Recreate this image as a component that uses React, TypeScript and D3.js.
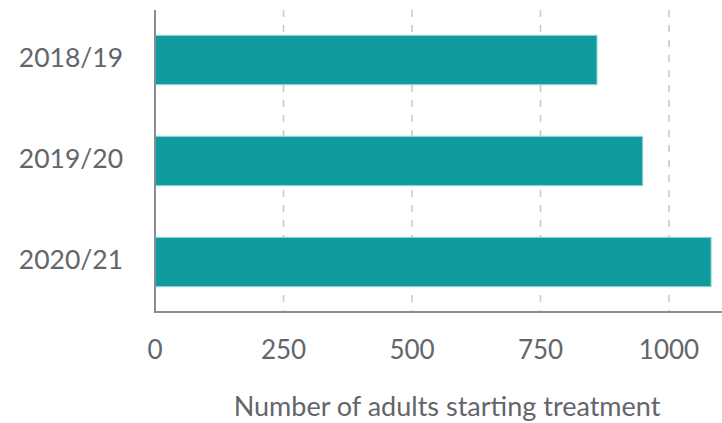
import { useEffect, useRef } from "react"
import * as d3 from "d3"

const years = ["2018/19", "2019/20", "2020/21"]
const adults = [860, 949, 1082]
const ticks = [0, 250, 500, 750, 1000]

export default function App() {
  const svgRef = useRef<SVGSVGElement>(null)

  useEffect(() => {
    if (!svgRef.current) return
    const svg = d3.select(svgRef.current)
    svg.selectAll("*").remove()

    const left = 155
    const top = 10
    const bottom = 312

    const x = d3.scaleLinear().domain([0, 1100]).range([left, left + 0.514 * 1100])
    const y = d3
      .scaleBand<string>()
      .domain(years)
      .range([top, bottom])
      .paddingInner(0.51)
      .paddingOuter(0.25)

    const font = "Lato, 'Open Sans', sans-serif"
    const textColor = "#62666b"

    // dashed gridlines
    svg
      .append("g")
      .selectAll("line")
      .data(ticks.filter((t) => t > 0))
      .enter()
      .append("line")
      .attr("x1", (d) => x(d))
      .attr("x2", (d) => x(d))
      .attr("y1", top)
      .attr("y2", bottom)
      .attr("stroke", "#c8c8c8")
      .attr("stroke-width", 1.5)
      .attr("stroke-dasharray", "7,8")

    // bars
    svg
      .append("g")
      .selectAll("rect")
      .data(adults)
      .enter()
      .append("rect")
      .attr("x", x(0))
      .attr("y", (_, i) => y(years[i])!)
      .attr("width", (d) => x(d) - x(0))
      .attr("height", y.bandwidth())
      .attr("fill", "#109c9e")
      .attr("stroke", "#a8dada")
      .attr("stroke-width", 1)

    // axis lines
    svg
      .append("path")
      .attr("d", `M${left},${top}V${bottom}H722`)
      .attr("fill", "none")
      .attr("stroke", "#8a8d91")
      .attr("stroke-width", 2)

    // x tick labels
    svg
      .append("g")
      .selectAll("text")
      .data(ticks)
      .enter()
      .append("text")
      .attr("x", (d) => x(d))
      .attr("y", 352)
      .attr("text-anchor", "middle")
      .attr("dominant-baseline", "middle")
      .attr("font-family", font)
      .attr("font-size", "26px")
      .attr("fill", textColor)
      .text((d) => d)

    // y category labels
    svg
      .append("g")
      .selectAll("text")
      .data(years)
      .enter()
      .append("text")
      .attr("x", 123)
      .attr("y", (d) => y(d)! + y.bandwidth() / 2)
      .attr("text-anchor", "end")
      .attr("dominant-baseline", "middle")
      .attr("font-family", font)
      .attr("font-size", "26.5px")
      .attr("fill", textColor)
      .text((d) => d)

    // axis title
    svg
      .append("text")
      .attr("x", 447)
      .attr("y", 409)
      .attr("text-anchor", "middle")
      .attr("dominant-baseline", "middle")
      .attr("font-family", font)
      .attr("font-size", "27px")
      .attr("fill", textColor)
      .text("Number of adults starting treatment")
  }, [])

  return (
    <svg
      ref={svgRef}
      width={722}
      height={423}
      style={{ position: "absolute", left: 0, top: 0, background: "#fff" }}
    />
  )
}
